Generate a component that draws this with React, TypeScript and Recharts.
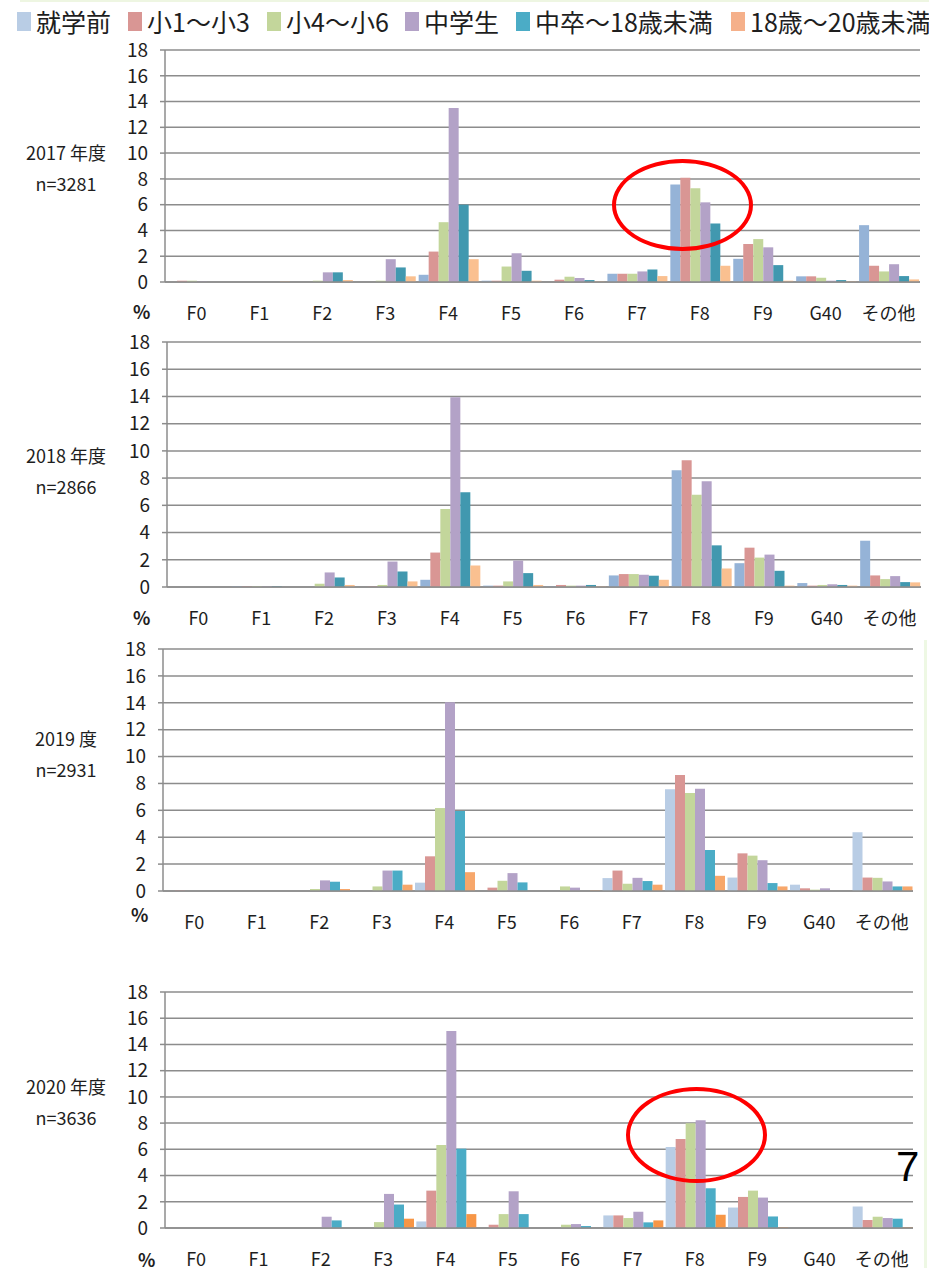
import React from 'react';
import { BarChart, Bar, XAxis, YAxis, CartesianGrid } from 'recharts';

const categories = ['F0', 'F1', 'F2', 'F3', 'F4', 'F5', 'F6', 'F7', 'F8', 'F9', 'G40', 'その他'];
const seriesNames = ['就学前', '小1～小3', '小4～小6', '中学生', '中卒～18歳未満', '18歳～20歳未満'];
const yTicks = [0, 2, 4, 6, 8, 10, 12, 14, 16, 18];
const edgeTicks = [0, 1, 2, 3, 4, 5, 6, 7, 8, 9, 10, 11, 12];

// 1行 = 1系列（seriesNames の順）、列は categories の順
const v2017 = [
  [0, 0, 0, 0, 0.56, 0.1, 0, 0.64, 7.56, 1.8, 0.44, 4.41],
  [0.1, 0, 0, 0, 2.36, 0.1, 0.18, 0.64, 8.08, 2.95, 0.44, 1.26],
  [0.1, 0, 0.1, 0.1, 4.64, 1.2, 0.41, 0.64, 7.28, 3.33, 0.33, 0.82],
  [0.05, 0, 0.75, 1.77, 13.5, 2.23, 0.31, 0.82, 6.18, 2.69, 0.1, 1.38],
  [0, 0, 0.75, 1.13, 6.0, 0.87, 0.15, 0.97, 4.54, 1.31, 0.15, 0.46],
  [0, 0.05, 0.15, 0.44, 1.77, 0.1, 0.05, 0.46, 1.26, 0.1, 0.05, 0.2],
];
const v2018 = [
  [0, 0.05, 0, 0, 0.53, 0.1, 0.05, 0.85, 8.58, 1.75, 0.29, 3.4],
  [0, 0.05, 0, 0.05, 2.53, 0.1, 0.15, 0.95, 9.31, 2.89, 0.1, 0.85],
  [0, 0.05, 0.24, 0.15, 5.73, 0.41, 0.1, 0.95, 6.78, 2.16, 0.15, 0.58],
  [0, 0.05, 1.07, 1.87, 13.95, 1.94, 0.1, 0.9, 7.77, 2.38, 0.2, 0.8],
  [0, 0.05, 0.7, 1.14, 6.97, 1.02, 0.15, 0.83, 3.06, 1.19, 0.15, 0.36],
  [0, 0, 0.15, 0.41, 1.58, 0.15, 0.05, 0.53, 1.36, 0.1, 0.1, 0.34],
];
const v2019 = [
  [0, 0, 0, 0, 0.62, 0, 0, 0.96, 7.57, 1.0, 0.47, 4.37],
  [0.05, 0, 0, 0, 2.58, 0.25, 0, 1.52, 8.63, 2.8, 0.2, 1.0],
  [0, 0, 0.15, 0.34, 6.17, 0.76, 0.34, 0.54, 7.28, 2.63, 0.1, 0.98],
  [0, 0, 0.79, 1.52, 14.04, 1.33, 0.25, 0.98, 7.6, 2.29, 0.2, 0.71],
  [0, 0, 0.69, 1.52, 5.95, 0.64, 0, 0.74, 3.05, 0.59, 0, 0.34],
  [0, 0, 0.15, 0.47, 1.4, 0, 0.05, 0.47, 1.13, 0.34, 0, 0.34],
];
const v2020 = [
  [0, 0, 0, 0, 0.5, 0, 0, 0.96, 6.18, 1.56, 0, 1.64],
  [0, 0, 0, 0, 2.85, 0.25, 0, 0.96, 6.78, 2.37, 0, 0.61],
  [0, 0, 0, 0.45, 6.33, 1.06, 0.25, 0.76, 7.99, 2.85, 0, 0.86],
  [0, 0, 0.86, 2.6, 15.03, 2.8, 0.3, 1.24, 8.22, 2.32, 0, 0.76],
  [0, 0, 0.58, 1.79, 6.05, 1.06, 0.15, 0.43, 3.03, 0.88, 0, 0.71],
  [0, 0, 0, 0.71, 1.06, 0, 0, 0.58, 1.01, 0.05, 0, 0.05],
];

const colorsA = ['#95B3D7', '#D99694', '#C3D69B', '#B3A2C7', '#4198AF', '#FAC090'];
const colorsB = ['#B9CDE5', '#D99694', '#C3D69B', '#B3A2C7', '#4BACC6', '#F7A76B'];
const colorsC = ['#B9CDE5', '#D99694', '#C3D69B', '#B3A2C7', '#4BACC6', '#F79646'];
const legendColors = ['#B9CDE5', '#D99694', '#C3D69B', '#B3A2C7', '#4BACC6', '#F5B08A'];

const FONT = "'Noto Sans CJK JP', 'Noto Sans', sans-serif";
const AXIS = '#8c8c8c';
const W = 929;

function toRows(vals: number[][]) {
  return categories.map((cat, i) => {
    const row: any = { cat };
    vals.forEach((s, k) => { row['s' + k] = s[i]; });
    return row;
  });
}

function Panel({ vals, colors, top, bottom, left, right, year, n, labelTop, pct }: any) {
  const mTop = 22;
  const mBottom = 46;
  const yW = 60;
  const rows = toRows(vals);
  const h = bottom - top + mTop + mBottom;
  return (
    <>
      <div style={{ position: 'absolute', left: 0, top: top - mTop }}>
        <BarChart
          width={W}
          height={h}
          data={rows}
          margin={{ top: mTop, right: W - right, bottom: mBottom, left: left - yW }}
          barCategoryGap={2}
          barGap={0}
        >
          <CartesianGrid vertical={false} stroke={AXIS} strokeWidth={1.5} />
          <XAxis
            dataKey="cat"
            height={1}
            tickLine={false}
            axisLine={{ stroke: AXIS, strokeWidth: 1.5 }}
            tickSize={6}
            tickMargin={19}
            interval={0}
            tick={{ fontSize: 18, fill: '#1e1e1e', fontFamily: FONT }}
          />
          <XAxis
            xAxisId="edge"
            type="number"
            domain={[0, 12]}
            ticks={edgeTicks}
            allowDataOverflow
            height={1}
            axisLine={false}
            tick={false}
            tickLine={{ stroke: AXIS, strokeWidth: 1.5 }}
            tickSize={6}
          />
          <YAxis
            width={yW}
            domain={[0, 18]}
            ticks={yTicks}
            interval={0}
            axisLine={{ stroke: AXIS, strokeWidth: 1.5 }}
            tickLine={{ stroke: AXIS, strokeWidth: 1.5 }}
            tickSize={5}
            tickMargin={12}
            tick={{ fontSize: 19, fill: '#1e1e1e', fontFamily: FONT }}
          />
          {seriesNames.map((name, k) => (
            <Bar key={name} dataKey={'s' + k} name={name} fill={colors[k]} isAnimationActive={false} />
          ))}
        </BarChart>
      </div>
      <div style={{ position: 'absolute', left: 0, width: 132, top: labelTop, textAlign: 'center', fontFamily: FONT, fontSize: 18, lineHeight: '31px', color: '#1e1e1e' }}>
        <div>{year}</div>
        <div>{n}</div>
      </div>
      <div style={{ position: 'absolute', left: pct[0], top: pct[1], fontFamily: FONT, fontSize: 18, fontWeight: 700, color: '#1e1e1e' }}>%</div>
    </>
  );
}

function Legend() {
  const lefts = [17, 128, 267, 405, 516, 731];
  return (
    <div style={{ position: 'absolute', left: 0, top: 0, width: W, height: 40, overflow: 'hidden' }}>
      <div style={{ position: 'absolute', left: 20, top: 0, width: W - 20, height: 2, background: '#EEF6E2' }} />
      {seriesNames.map((name, k) => (
        <div key={name} style={{ position: 'absolute', left: lefts[k], top: 3, display: 'flex', alignItems: 'center', whiteSpace: 'nowrap', fontFamily: FONT, fontSize: 25, color: '#1e1e1e', lineHeight: '36px' }}>
          <span style={{ display: 'inline-block', width: 14, height: 19, background: legendColors[k], marginRight: 5 }} />
          {name}
        </div>
      ))}
    </div>
  );
}

export default function App() {
  return (
    <div style={{ position: 'absolute', left: 0, top: 0, width: W, height: 1268, background: '#fff', overflow: 'hidden' }}>
      <Legend />
      <Panel vals={v2017} colors={colorsA} top={50} bottom={284} left={165} right={920} year="2017 年度" n="n=3281" labelTop={137} pct={[133, 298]} />
      <Panel vals={v2018} colors={colorsA} top={342} bottom={589} left={167} right={921} year="2018 年度" n="n=2866" labelTop={440} pct={[133, 604]} />
      <Panel vals={v2019} colors={colorsB} top={649} bottom={893} left={163} right={913} year="2019 度" n="n=2931" labelTop={723} pct={[131, 901]} />
      <Panel vals={v2020} colors={colorsC} top={992} bottom={1230} left={165} right={913} year="2020 年度" n="n=3636" labelTop={1071} pct={[138, 1246]} />
      <div style={{ position: 'absolute', left: 924, top: 640, width: 3, height: 628, background: '#EEF8E4' }} />
      <div style={{ position: 'absolute', left: 612, top: 159, width: 141, height: 92, boxSizing: 'border-box', border: '4px solid #FF0000', borderRadius: '50%' }} />
      <div style={{ position: 'absolute', left: 626, top: 1087, width: 141, height: 96, boxSizing: 'border-box', border: '4px solid #FF0000', borderRadius: '50%' }} />
      <div style={{ position: 'absolute', left: 896, top: 1143, fontFamily: "'Liberation Sans', Arial, sans-serif", fontSize: 42, color: '#000' }}>7</div>
    </div>
  );
}
